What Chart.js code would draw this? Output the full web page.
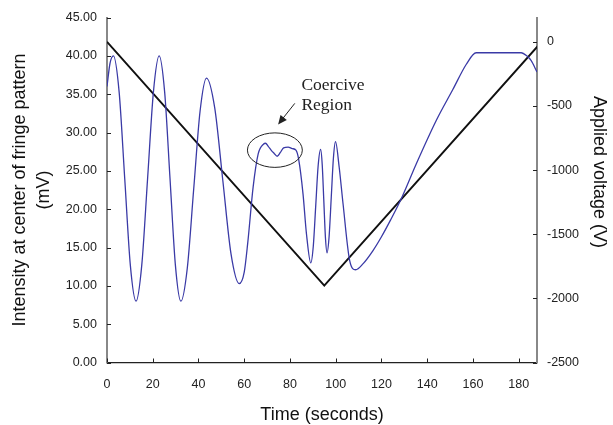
<!DOCTYPE html>
<html>
<head>
<meta charset="utf-8">
<script src="https://cdn.jsdelivr.net/npm/chart.js@4.4.1/dist/chart.umd.min.js"></script>
<style>
  html, body { margin: 0; padding: 0; background: #fff; }
  canvas { display: block; }
</style>
</head>
<body>
<canvas id="fringe" width="613" height="425"></canvas>
<script>
// --- data ---
const timeTicks = [0, 20, 40, 60, 80, 100, 120, 140, 160, 180];
const intensityTicks = [0, 5, 10, 15, 20, 25, 30, 35, 40, 45];
const voltageTicks = [-2500, -2000, -1500, -1000, -500, 0];

// intensity at centre of fringe pattern (mV) vs time (s)
const intensityTime = [
  0, 1.3, 2.8, 5.3, 7.75, 10.2, 12.7, 15.2, 17.75, 20.3, 22.8, 25.2, 27.55, 29.9,
  32.3, 35.1, 37.9, 40.7, 43.5, 47.1, 50.65, 54.2, 57.8, 60, 61.5, 63.9, 66.1,
  68.5, 69.3, 70.5, 72, 73, 74.4, 75.8, 77.2, 79.2, 81, 82.6, 83.8, 85.7, 87.2,
  89.1, 90.2, 91.25, 92.3, 93.4, 94.1, 94.8, 95.5, 96.2, 97.1, 98.05, 99, 99.9,
  101.5, 103.2, 106.1, 108.7, 112, 116.3, 120, 124, 128.7, 135.2, 144, 151.2, 157.1,
  161.4, 181.1, 183.5, 185.4, 188
];
const intensityMv = [
  36.0, 39.0, 40.0, 35.3, 24.0, 12.7, 8.0, 12.7, 24.0, 35.3, 40.0, 35.3, 24.0, 12.7,
  8.0, 12.3, 22.6, 32.8, 37.1, 33.2, 23.7, 14.2, 10.3, 11.8, 15.5, 22.9, 27.2,
  28.5, 28.6, 28.2, 27.6, 27.3, 26.9, 27.4, 28.0, 28.1, 27.9, 27.7, 26.5, 22.0, 16.8,
  13.0, 15.2, 20.4, 25.6, 27.8, 25.8, 21.05, 16.3, 14.3, 16.4, 21.55, 26.7, 28.8,
  25.5, 20.7, 13.3, 12.1, 12.9, 14.6, 16.4, 18.6, 21.4, 25.9, 31.6, 35.6, 38.9,
  40.4, 40.4, 40.0, 39.4, 37.9
];

// applied voltage ramp (V)
const rampTime = [0, 95, 190];
const rampVolts = [0, -1900, 0];

const sans = "'Liberation Sans', Arial, Helvetica, sans-serif";
const serif = "'Liberation Serif', 'Times New Roman', serif";

// inward tick marks, like the original plot
const insideTicks = {
  id: 'insideTicks',
  afterDatasetsDraw(chart) {
    const { ctx, chartArea: a, scales } = chart;
    ctx.save();
    ctx.strokeStyle = '#222';
    ctx.lineWidth = 1;
    ctx.beginPath();
    scales.x.ticks.forEach(t => {
      const px = Math.round(scales.x.getPixelForValue(t.value)) + 0.5;
      ctx.moveTo(px, a.bottom);
      ctx.lineTo(px, a.bottom - 4);
    });
    scales.y.ticks.forEach(t => {
      const py = Math.round(scales.y.getPixelForValue(t.value)) + 0.5;
      ctx.moveTo(a.left, py);
      ctx.lineTo(a.left + 4, py);
    });
    scales.y2.ticks.forEach(t => {
      const py = Math.round(scales.y2.getPixelForValue(t.value)) + 0.5;
      ctx.moveTo(a.right, py);
      ctx.lineTo(a.right - 4, py);
    });
    ctx.stroke();
    ctx.restore();
  }
};

// right axis title sits a bit above the axis middle in the original
const rightTitle = {
  id: 'rightTitle',
  afterDraw(chart) {
    const { ctx } = chart;
    ctx.save();
    ctx.translate(598.5, 172);
    ctx.rotate(Math.PI / 2);
    ctx.font = '18px ' + sans;
    ctx.fillStyle = '#111';
    ctx.textAlign = 'center';
    ctx.textBaseline = 'middle';
    ctx.fillText('Applied voltage (V)', 0, 0);
    ctx.restore();
  }
};

// "Coercive Region" note with ellipse + arrow
const coerciveNote = {
  id: 'coerciveNote',
  afterDatasetsDraw(chart) {
    const { ctx, scales: { x, y } } = chart;
    const cx = x.getPixelForValue(73.4), cy = y.getPixelForValue(27.7);
    const rx = x.getPixelForValue(85.4) - cx, ry = cy - y.getPixelForValue(29.95);
    ctx.save();
    ctx.strokeStyle = '#222';
    ctx.lineWidth = 1;
    ctx.beginPath();
    ctx.ellipse(cx, cy, rx, ry, 0, 0, Math.PI * 2);
    ctx.stroke();

    // arrow
    const x0 = x.getPixelForValue(82.1), y0 = y.getPixelForValue(33.8);
    const x1 = x.getPixelForValue(74.8), y1 = y.getPixelForValue(31.05);
    const ang = Math.atan2(y1 - y0, x1 - x0);
    ctx.beginPath();
    ctx.moveTo(x0, y0);
    ctx.lineTo(x1 - 6 * Math.cos(ang), y1 - 6 * Math.sin(ang));
    ctx.stroke();
    ctx.fillStyle = '#222';
    ctx.beginPath();
    ctx.moveTo(x1, y1);
    ctx.lineTo(x1 - 9 * Math.cos(ang) + 4 * Math.sin(ang), y1 - 9 * Math.sin(ang) - 4 * Math.cos(ang));
    ctx.lineTo(x1 - 9 * Math.cos(ang) - 4 * Math.sin(ang), y1 - 9 * Math.sin(ang) + 4 * Math.cos(ang));
    ctx.closePath();
    ctx.fill();

    ctx.font = '17.5px ' + serif;
    ctx.textAlign = 'left';
    ctx.textBaseline = 'alphabetic';
    ctx.fillText('Coercive', x.getPixelForValue(85), y.getPixelForValue(35.6));
    ctx.fillText('Region', x.getPixelForValue(85), y.getPixelForValue(33.0));
    ctx.restore();
  }
};

const intensityPoints = intensityTime.map((t, i) => ({ x: t, y: intensityMv[i] }));
const rampPoints = rampTime.map((t, i) => ({ x: t, y: rampVolts[i] }));

new Chart(document.getElementById('fringe'), {
  type: 'line',
  data: {
    datasets: [
      {
        label: 'Intensity',
        data: intensityPoints,
        yAxisID: 'y',
        borderColor: '#3a3aa6',
        borderWidth: 1.3,
        pointRadius: 0,
        cubicInterpolationMode: 'monotone',
        fill: false,
      },
      {
        label: 'Applied voltage',
        data: rampPoints,
        yAxisID: 'y2',
        borderColor: '#111',
        borderWidth: 2,
        pointRadius: 0,
        tension: 0,
        fill: false,
      },
    ],
  },
  options: {
    responsive: false,
    animation: false,
    devicePixelRatio: 1,
    layout: { padding: { top: 17, left: 0, right: 0, bottom: 0 } },
    plugins: { legend: { display: false }, tooltip: { enabled: false } },
    scales: {
      x: {
        type: 'linear',
        min: 0,
        max: 188,
        afterBuildTicks: s => { s.ticks = timeTicks.map(v => ({ value: v })); },
        afterFit: s => { s.height = 62.5; },
        grid: { display: false, drawTicks: false },
        border: { display: true, color: '#222', width: 1.3 },
        ticks: { padding: 14.5, color: '#222', font: { family: sans, size: 12.5 }, maxRotation: 0 },
        title: {
          display: true,
          text: 'Time (seconds)',
          color: '#111',
          font: { family: sans, size: 18, lineHeight: 1 },
          padding: { top: 0, bottom: 1 },
        },
      },
      y: {
        position: 'left',
        min: 0,
        max: 45,
        afterBuildTicks: s => { s.ticks = intensityTicks.map(v => ({ value: v })); },
        afterFit: s => { s.width = 107; },
        grid: { display: false, drawTicks: false },
        border: { display: true, color: '#888', width: 2 },
        ticks: {
          padding: 10,
          color: '#222',
          font: { family: sans, size: 12.5 },
          callback: v => v.toFixed(2),
        },
        title: {
          display: true,
          text: ['Intensity at center of fringe pattern', '(mV)'],
          color: '#111',
          font: { family: sans, size: 18, lineHeight: 1.28 },
          padding: { top: 9, bottom: 0 },
        },
      },
      y2: {
        position: 'right',
        min: -2500,
        max: 190,
        afterBuildTicks: s => { s.ticks = voltageTicks.map(v => ({ value: v })); },
        afterFit: s => { s.width = 76; },
        grid: { display: false, drawTicks: false },
        border: { display: true, color: '#888', width: 2 },
        ticks: { padding: 10, color: '#222', font: { family: sans, size: 12.5 }, callback: v => String(v) },
        title: { display: false },
      },
    },
  },
  plugins: [insideTicks, coerciveNote, rightTitle],
});
</script>
</body>
</html>
